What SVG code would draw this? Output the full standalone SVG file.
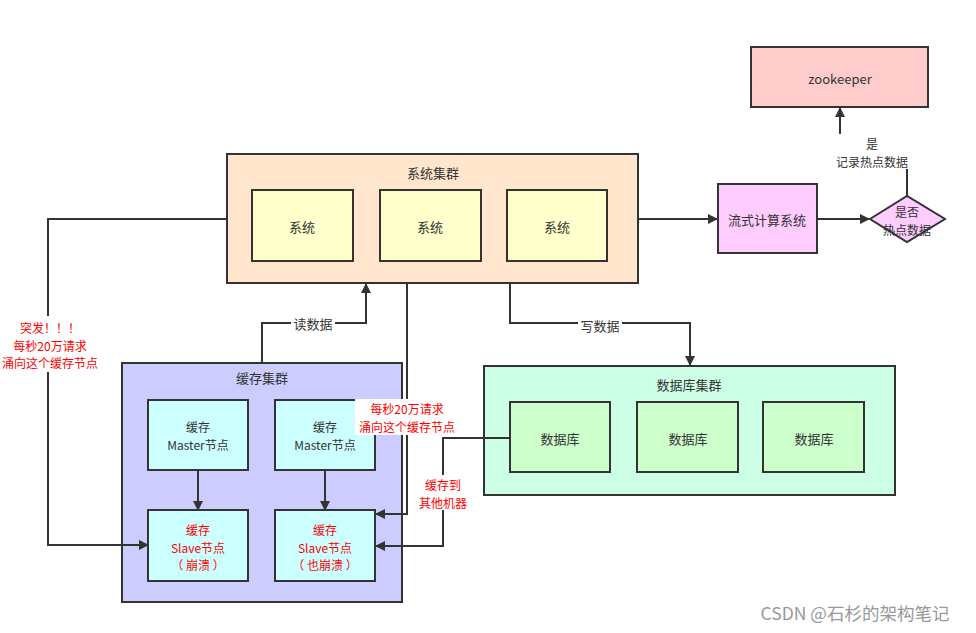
<svg xmlns="http://www.w3.org/2000/svg" width="976" height="633" viewBox="0 0 976 633">
<defs>
<marker id="arr" viewBox="0 0 10 10" refX="9" refY="5" markerWidth="10" markerHeight="10" markerUnits="userSpaceOnUse" orient="auto">
<path d="M0,0 L10,5 L0,10 z" fill="#333"/>
</marker>
<style>
.box{stroke:#333;stroke-width:2}
text{font-family:"Noto Sans CJK SC","Liberation Sans",sans-serif;font-size:13px;fill:#333;text-anchor:middle;dominant-baseline:central}
.ml{font-size:12px}
.red{fill:#f00}
.edge{fill:none;stroke:#333;stroke-width:2}
.lbg{fill:#fff}
</style>
</defs>
<rect width="976" height="633" fill="#fff"/>

<g id="sys-cluster">
<rect class="box" x="227" y="154" width="411" height="129" fill="#ffe6cc"/>
<text x="433" y="172">系统集群</text>
</g>
<g id="sys1"><rect class="box" x="252" y="190" width="101" height="71" fill="#ffffcc"/><text x="302" y="226">系统</text></g>
<g id="sys2"><rect class="box" x="380" y="190" width="101" height="71" fill="#ffffcc"/><text x="430" y="226">系统</text></g>
<g id="sys3"><rect class="box" x="507" y="190" width="100" height="71" fill="#ffffcc"/><text x="557" y="226">系统</text></g>

<g id="cache-cluster">
<rect class="box" x="122" y="363" width="280" height="239" fill="#ccccff"/>
<text x="262" y="377">缓存集群</text>
</g>
<g id="master1"><rect class="box" x="148" y="400" width="100" height="70" fill="#ccffff"/><text class="ml" x="198" y="426">缓存<tspan x="198" dy="17.5">Master节点</tspan></text></g>
<g id="master2"><rect class="box" x="275" y="400" width="100" height="70" fill="#ccffff"/><text class="ml" x="325" y="426">缓存<tspan x="325" dy="17.5">Master节点</tspan></text></g>
<g id="slave1"><rect class="box" x="148" y="510" width="100" height="71" fill="#ccffff"/><text class="ml red" x="198" y="529">缓存<tspan x="198" dy="17.5">Slave节点</tspan><tspan x="198" dy="17.5">（ 崩溃 ）</tspan></text></g>
<g id="slave2"><rect class="box" x="275" y="510" width="100" height="71" fill="#ccffff"/><text class="ml red" x="325" y="529">缓存<tspan x="325" dy="17.5">Slave节点</tspan><tspan x="325" dy="17.5">（ 也崩溃 ）</tspan></text></g>

<g id="db-cluster">
<rect class="box" x="484" y="366" width="411" height="129" fill="#ccffe6"/>
<text x="689" y="384">数据库集群</text>
</g>
<g id="db1"><rect class="box" x="510" y="402" width="100" height="70" fill="#ccffcc"/><text x="560" y="438">数据库</text></g>
<g id="db2"><rect class="box" x="637" y="402" width="101" height="70" fill="#ccffcc"/><text x="688" y="438">数据库</text></g>
<g id="db3"><rect class="box" x="763" y="402" width="101" height="70" fill="#ccffcc"/><text x="814" y="438">数据库</text></g>

<g id="stream"><rect class="box" x="718" y="184" width="99" height="69" fill="#ffccff"/><text x="767" y="219">流式计算系统</text></g>
<g id="decision"><path class="box" d="M870,219 L907,196 L945,219 L907,242 z" fill="#ffccff"/><text class="ml" x="907" y="211">是否<tspan x="907" dy="17.5">热点数据</tspan></text></g>
<g id="zookeeper"><rect class="box" x="751" y="47" width="177" height="60" fill="#ffcccc"/><text x="840" y="78">zookeeper</text></g>

<g id="connectors">
<path class="edge" d="M227,219 H48 V545 H148" marker-end="url(#arr)"/>
<path class="edge" d="M198,470 V510" marker-end="url(#arr)"/>
<path class="edge" d="M325,470 V510" marker-end="url(#arr)"/>
<path class="edge" d="M262,363 V323 H366 V284" marker-end="url(#arr)"/>
<path class="edge" d="M407,283 V514 H376" marker-end="url(#arr)"/>
<path class="edge" d="M510,283 V323 H690 V365" marker-end="url(#arr)"/>
<path class="edge" d="M510,438 H443 V546 H376" marker-end="url(#arr)"/>
<path class="edge" d="M638,219 H717" marker-end="url(#arr)"/>
<path class="edge" d="M817,219 H869" marker-end="url(#arr)"/>
<path class="edge" d="M907,196 V152 H840 V108" marker-end="url(#arr)"/>

<rect class="lbg" x="0" y="316" width="102" height="56"/>
<text class="ml red" x="50" y="327">突发！！！<tspan x="50" dy="17.5">每秒20万请求</tspan><tspan x="50" dy="17.5">涌向这个缓存节点</tspan></text>

<rect class="lbg" x="291" y="315" width="44" height="16"/>
<text x="313" y="323">读数据</text>

<rect class="lbg" x="578" y="317" width="44" height="16"/>
<text x="600" y="325">写数据</text>

<rect class="lbg" x="355" y="399" width="104" height="36"/>
<text class="ml red" x="407" y="408">每秒20万请求<tspan x="407" dy="17.5">涌向这个缓存节点</tspan></text>

<rect class="lbg" x="416" y="475" width="54" height="35"/>
<text class="ml red" x="443" y="484">缓存到<tspan x="443" dy="17.5">其他机器</tspan></text>

<rect class="lbg" x="831" y="134" width="84" height="35"/>
<text class="ml" x="872" y="143">是<tspan x="872" dy="17.5">记录热点数据</tspan></text>
</g>

<text x="855" y="612" style="font-size:17.5px;fill:#999">CSDN @石杉的架构笔记</text>
</svg>
